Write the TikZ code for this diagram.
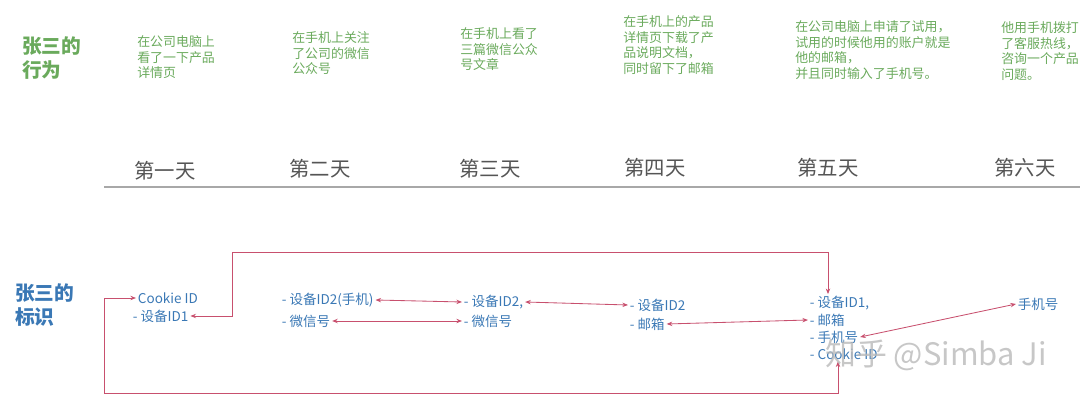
\documentclass[tikz,border=0pt]{standalone}
\usepackage{fontspec}
\setmainfont{Noto Sans CJK SC}
\usepackage{tikz}
\usepackage{xcolor}
\usetikzlibrary{arrows.meta,positioning,calc}
\definecolor{actgreen}{HTML}{6AAA5C}
\definecolor{idblue}{HTML}{3A78B5}
\definecolor{linkred}{HTML}{C8506E}
\definecolor{daygray}{HTML}{555555}
\definecolor{rulegray}{HTML}{A8A8A8}
\tikzset{
  rowtitle/.style={anchor=north west,inner sep=0pt,align=left,
                   font=\fontsize{14pt}{17.5pt}\selectfont\bfseries},
  acttext/.style={anchor=north west,inner sep=0pt,align=left,text=actgreen,
                  font=\fontsize{9.2pt}{11.3pt}\selectfont},
  daylabel/.style={inner sep=0pt,text=daygray,font=\fontsize{14.5pt}{16pt}\selectfont},
  idtext/.style={anchor=west,inner sep=1.2pt,text=idblue,
                 font=\fontsize{9.6pt}{10pt}\selectfont},
  idarr/.style={{Stealth[length=1.4mm,width=1.1mm]}-{Stealth[length=1.4mm,width=1.1mm]},
                line width=0.6pt,color=linkred}
}

\begin{document}
\begin{tikzpicture}[x=0.025cm,y=-0.025cm]
  \useasboundingbox (0,0) rectangle (1080,405);
  % behaviour row
  \node[rowtitle,text=actgreen] (acttitle) at (22,36) {张三的\\行为};
  \node[acttext] (act1) at (137,35) {在公司电脑上\\看了一下产品\\详情页};
  \node[acttext] (act2) at (292,31) {在手机上关注\\了公司的微信\\公众号};
  \node[acttext] (act3) at (460,27) {在手机上看了\\三篇微信公众\\号文章};
  \node[acttext] (act4) at (623,15) {在手机上的产品\\详情页下载了产\\品说明文档，\\同时留下了邮箱};
  \node[acttext] (act5) at (795,20) {在公司电脑上申请了试用，\\试用的时候他用的账户就是\\他的邮箱，\\并且同时输入了手机号。};
  \node[acttext] (act6) at (1001,21) {他用手机拨打\\了客服热线，\\咨询一个产品\\问题。};
  % day axis
  \node[daylabel] (day1) at (165,171) {第一天};
  \node[daylabel] (day2) at (320,169) {第二天};
  \node[daylabel] (day3) at (490,169) {第三天};
  \node[daylabel] (day4) at (655,168) {第四天};
  \node[daylabel] (day5) at (828,168) {第五天};
  \node[daylabel] (day6) at (1025,168) {第六天};
  \coordinate (axisL) at (104,187);
  \coordinate (axisR) at (1080,187);
  \draw[rulegray,line width=1pt] (axisL) -- (axisR);
  % identity row
  \node[rowtitle,text=idblue] (idtitle) at (15,283) {张三的\\标识};
  \node[idtext] (d1cookie) at (136,298) {Cookie ID};
  \node[idtext] (d1dev) at (131,316) {- 设备ID1};
  \node[idtext] (d2dev) at (280,300) {- 设备ID2(手机)};
  \node[idtext] (d2wx) at (280,321) {- 微信号};
  \node[idtext] (d3dev) at (462,302) {- 设备ID2,};
  \node[idtext] (d3wx) at (462,321) {- 微信号};
  \node[idtext] (d4dev) at (628,305) {- 设备ID2};
  \node[idtext] (d4mail) at (628,324) {- 邮箱};
  \node[idtext] (d5dev) at (808,303) {- 设备ID1,};
  \node[idtext] (d5mail) at (808,320) {- 邮箱};
  \node[idtext] (d5phone) at (808,337) {- 手机号};
  \node[idtext] (d5cookie) at (808,354) {- Cookie ID};
  \node[idtext] (d6phone) at (1016,304) {手机号};
  % links between days
  \coordinate (topL) at (232,252);
  \coordinate (topR) at (828,252);
  \coordinate (botL) at (104,393);
  \coordinate (botR) at (838,393);
  \draw[idarr] (d1dev.east) -| (topL) -- (topR) -- (topR |- d5dev.north);
  \draw[idarr] (d1cookie.west) -| (botL) -- (botR) -- (botR |- d5cookie.south);
  \draw[idarr] (d2dev.east) -- (d3dev.west);
  \draw[idarr] (d2wx.east) -- (d3wx.west);
  \draw[idarr] (d3dev.east) -- (d4dev.west);
  \draw[idarr] (d4mail.east) -- (d5mail.west);
  \draw[idarr] (d5phone.east) -- (d6phone.west);
  % watermark
  \node[text=gray!55,opacity=0.8,inner sep=0pt,font=\fontsize{22pt}{24pt}\selectfont] (mark) at (936,355) {知乎 @Simba Ji};
\end{tikzpicture}
\end{document}
